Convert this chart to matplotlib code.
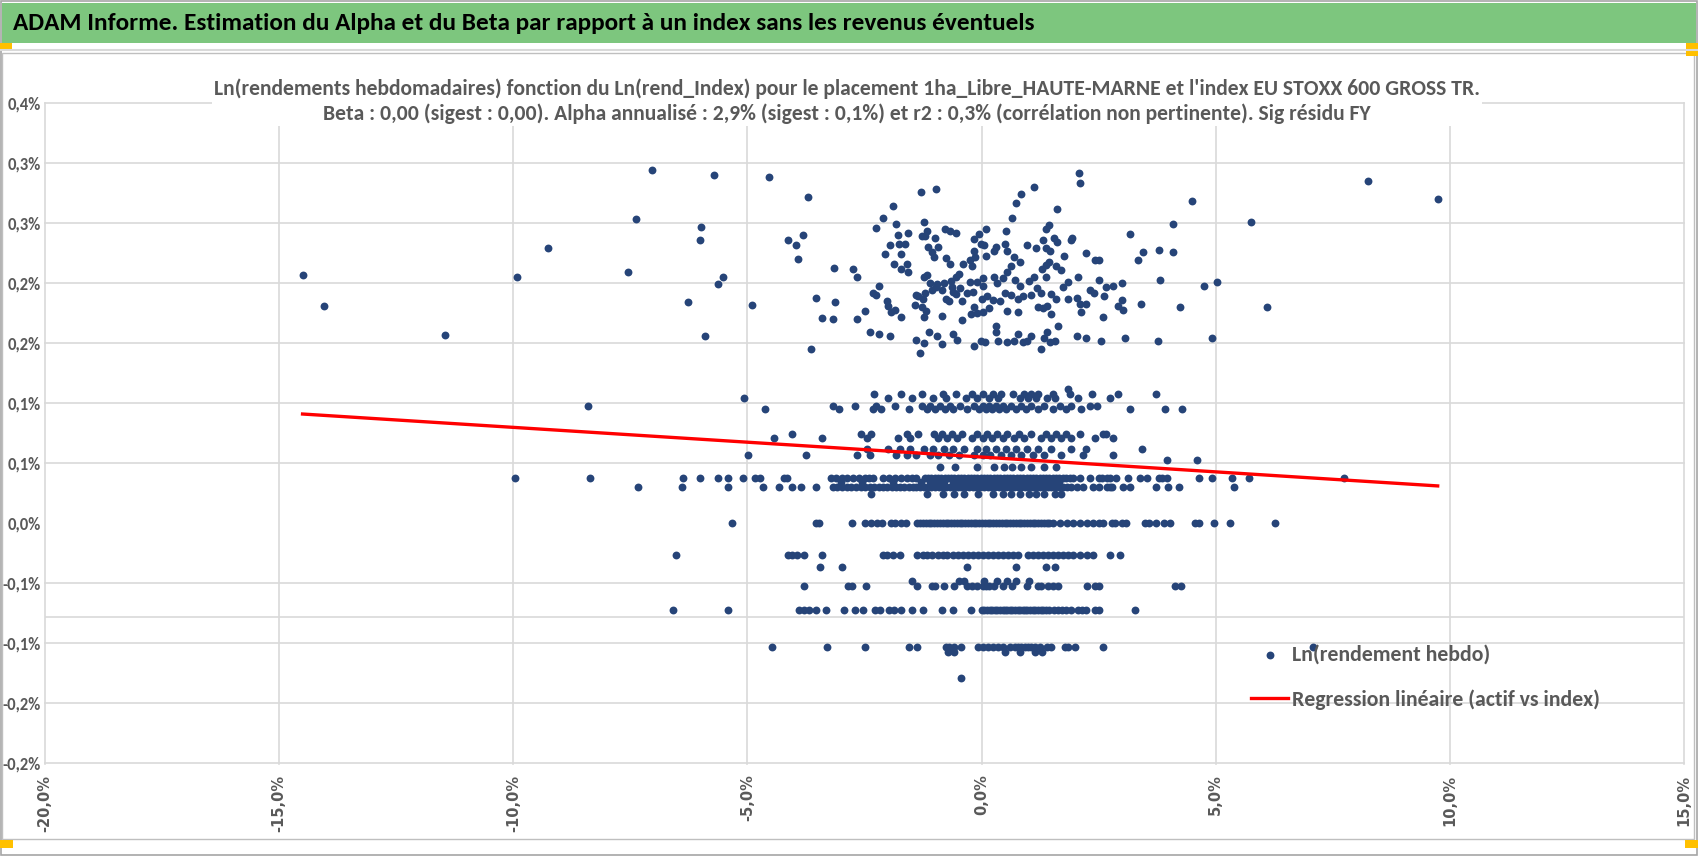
import numpy as np
import matplotlib
matplotlib.use("Agg")
import matplotlib.pyplot as plt
from matplotlib import font_manager
from matplotlib.patches import Rectangle
from matplotlib.lines import Line2D
from matplotlib.transforms import Affine2D

# weekly ln-returns in %: (index, fund)
cloud_far_left = [(-14.50, 0.207), (-14.05, 0.181), (-11.45, 0.157), (-9.93, 0.205), (-9.26, 0.229),
                  (-7.55, 0.209), (-7.38, 0.253), (-7.03, 0.294), (-6.27, 0.184), (-6.00, 0.247),
                  (-6.02, 0.236), (-5.90, 0.156), (-5.71, 0.290), (-5.53, 0.205), (-5.62, 0.199),
                  (-4.91, 0.182), (-4.53, 0.288), (-4.13, 0.236), (-3.97, 0.232), (-3.82, 0.240),
                  (-3.92, 0.220), (-3.71, 0.272), (-3.65, 0.145), (-3.54, 0.188), (-3.40, 0.171),
                  (-3.17, 0.170), (-3.16, 0.213), (-3.12, 0.184), (-2.74, 0.212), (-2.66, 0.205),
                  (-2.66, 0.170), (-2.48, 0.177)]
cloud_core_top = [(-2.26, 0.246), (-2.10, 0.254), (-1.89, 0.264), (-1.82, 0.249), (-1.78, 0.240),
                  (-1.96, 0.232), (-1.76, 0.233), (-1.64, 0.233), (-1.57, 0.242), (-2.07, 0.224),
                  (-1.72, 0.224), (-1.87, 0.216), (-1.72, 0.212), (-1.60, 0.216), (-1.57, 0.209),
                  (-2.18, 0.198), (-2.32, 0.192), (-2.25, 0.190), (-2.03, 0.185), (-2.00, 0.181),
                  (-1.93, 0.176), (-1.85, 0.178), (-1.71, 0.172), (-2.38, 0.159), (-2.19, 0.158),
                  (-1.96, 0.156), (-1.42, 0.182), (-1.39, 0.190), (-1.30, 0.276), (-0.97, 0.278),
                  (-1.24, 0.251), (-1.17, 0.243), (-1.28, 0.239), (-1.21, 0.239), (-0.99, 0.238),
                  (-1.15, 0.230), (-1.06, 0.226), (-1.01, 0.222), (-0.92, 0.230), (-0.79, 0.245),
                  (-0.67, 0.243), (-0.54, 0.242), (-0.75, 0.221), (-0.68, 0.216), (-0.39, 0.216),
                  (-0.25, 0.219), (-0.20, 0.214), (-0.13, 0.222), (-0.17, 0.227), (-0.17, 0.237),
                  (-0.06, 0.241), (-0.02, 0.233), (0.05, 0.232), (0.09, 0.245), (0.09, 0.223),
                  (0.27, 0.227), (0.30, 0.230), (0.52, 0.243), (0.50, 0.233), (0.55, 0.227),
                  (0.66, 0.254), (0.73, 0.267), (0.85, 0.274), (1.11, 0.280), (0.70, 0.222),
                  (0.83, 0.218), (0.97, 0.232), (1.16, 0.229), (1.31, 0.236), (1.37, 0.245),
                  (1.43, 0.248), (1.54, 0.238), (1.61, 0.234), (1.38, 0.229), (1.47, 0.227),
                  (1.61, 0.262), (1.77, 0.223), (1.90, 0.236), (1.94, 0.238), (2.22, 0.225),
                  (2.42, 0.219), (2.08, 0.292), (2.10, 0.283)]
cloud_core_mid = [(-1.24, 0.205), (-1.17, 0.207), (-1.10, 0.200), (-0.96, 0.199), (-0.81, 0.200),
                  (-0.65, 0.202), (-0.54, 0.205), (-0.49, 0.208), (-0.63, 0.197), (-0.47, 0.196),
                  (-0.25, 0.201), (-0.18, 0.193), (-0.09, 0.201), (0.02, 0.204), (0.03, 0.198),
                  (0.27, 0.205), (0.32, 0.200), (0.45, 0.204), (0.54, 0.209), (0.63, 0.214),
                  (0.71, 0.203), (0.83, 0.198), (1.02, 0.202), (1.13, 0.205), (1.19, 0.196),
                  (1.29, 0.212), (1.37, 0.215), (1.38, 0.205), (1.45, 0.218), (1.60, 0.214),
                  (1.70, 0.211), (1.74, 0.197), (1.85, 0.201), (2.06, 0.205), (2.31, 0.194),
                  (2.40, 0.192), (-1.35, 0.189), (-1.26, 0.187), (-1.21, 0.192), (-1.06, 0.194),
                  (-0.97, 0.197), (-0.85, 0.194), (-0.75, 0.187), (-0.70, 0.185), (-0.61, 0.193),
                  (-0.54, 0.191), (-0.42, 0.185), (-0.32, 0.192), (0.00, 0.187), (0.11, 0.189),
                  (0.25, 0.186), (0.40, 0.185), (0.50, 0.192), (0.63, 0.190), (0.77, 0.187),
                  (0.88, 0.189), (1.06, 0.190), (1.27, 0.192), (1.48, 0.191), (1.60, 0.187),
                  (1.85, 0.187), (2.04, 0.188), (2.10, 0.183), (2.22, 0.183)]
cloud_core_low = [(-1.27, 0.180), (-1.18, 0.177), (-1.24, 0.172), (-0.85, 0.173), (-0.42, 0.169),
                  (-0.17, 0.180), (-0.09, 0.175), (-0.22, 0.174), (0.02, 0.176), (0.16, 0.179),
                  (0.55, 0.177), (0.78, 0.176), (1.20, 0.180), (1.31, 0.179), (1.39, 0.181),
                  (1.49, 0.174), (2.12, 0.176), (-1.39, 0.153), (-1.22, 0.150), (-1.13, 0.159),
                  (-0.96, 0.156), (-0.85, 0.149), (-0.60, 0.158), (-0.52, 0.153), (-0.02, 0.152),
                  (0.07, 0.151), (0.30, 0.159), (0.30, 0.164), (0.36, 0.152), (0.55, 0.151),
                  (0.70, 0.152), (0.78, 0.158), (0.88, 0.151), (0.98, 0.152), (1.06, 0.156),
                  (1.34, 0.154), (1.40, 0.159), (1.46, 0.151), (1.57, 0.152), (1.63, 0.164),
                  (2.03, 0.156), (2.22, 0.154), (-1.31, 0.142), (-0.17, 0.148), (1.27, 0.145)]
cloud_right = [(4.50, 0.268), (4.08, 0.249), (3.16, 0.241), (5.75, 0.251), (8.26, 0.285),
               (9.74, 0.270), (3.34, 0.219), (3.44, 0.226), (3.79, 0.228), (4.09, 0.226),
               (2.50, 0.219), (2.50, 0.203), (2.66, 0.197), (2.81, 0.198), (3.00, 0.200),
               (3.81, 0.203), (4.76, 0.198), (5.02, 0.201), (2.62, 0.189), (3.00, 0.186),
               (2.91, 0.181), (3.02, 0.178), (3.41, 0.183), (4.23, 0.180), (6.10, 0.180),
               (2.60, 0.172), (2.54, 0.152), (3.07, 0.154), (3.76, 0.152), (4.93, 0.154)]

# weeks where the fund return sits on a repeated value: index returns per level
row_p112 = [1.84]
row_p108 = [-2.30, -1.73, -1.28, -0.83, -0.55, -0.20, 0.03, 0.24, 0.41, 0.67, 0.91, 1.06, 1.20,
            1.53, 1.88, 2.35, 2.91, 3.72]
row_p104 = [-5.07, -1.99, -1.49, -1.03, -0.76, -0.34, -0.09, 0.16, 0.35, 0.81, 0.99, 1.17, 1.39,
            1.56, 2.06, 2.74]
row_p098 = [-8.40, -3.17, -2.71, -2.25, -1.85, -1.28, -1.10, -0.88, -0.67, -0.45, -0.17, 0.02,
            0.16, 0.30, 0.45, 0.63, 0.84, 1.06, 1.34, 1.67, 1.92, 2.31, 2.46]
row_p095 = [-4.63, -3.05, -2.31, -2.14, -1.54, -1.17, -0.99, -0.79, -0.60, -0.31, -0.06, 0.09,
            0.23, 0.37, 0.52, 0.73, 0.95, 1.20, 1.52, 1.81, 2.13, 3.18, 3.92, 4.28]
row_p074 = [-4.04, -2.57, -2.36, -1.60, -1.35, -1.02, -0.85, -0.63, -0.42, -0.09, 0.12, 0.34,
            0.55, 0.80, 1.06, 1.38, 1.60, 1.81, 2.10, 2.60, 2.66]
row_p071 = [-4.44, -3.40, -2.45, -1.78, -1.53, -0.92, -0.74, -0.52, -0.20, 0.02, 0.23, 0.45,
            0.70, 0.91, 1.27, 1.49, 1.70, 1.92, 2.42, 2.81]
row_p062 = [-2.45, -2.00, -1.75, -1.53, -1.24, -1.03, -0.81, -0.60, -0.38, -0.09, 0.09, 0.30,
            0.52, 0.73, 0.98, 1.20, 1.49, 1.92, 2.24, 3.43]
row_p057 = [-4.98, -3.74, -2.67, -2.39, -1.82, -1.60, -1.39, -1.10, -0.92, -0.70, -0.49, -0.17,
            0.02, 0.19, 0.41, 0.63, 0.84, 1.09, 1.34, 1.70, 2.17, 2.81]
row_p053 = [3.95, 4.61]
row_p047 = [-0.88, -0.56, -0.09, 0.27, 0.48, 0.66, 0.84, 1.06, 1.34, 1.60]
row_p038 = [-9.96, -8.36, -6.38, -6.02, -5.62, -5.41, -5.10, -4.83, -4.73, -4.22, -4.15,
            -3.22, -3.10, -2.98, -2.88, -2.75, -2.62, -2.50, -2.40, -2.32,
            -2.10, -1.98, -1.85, -1.72, -1.60, -1.49, -1.39,
            -1.21, -1.15, -1.07, -1.00, -0.93, -0.86, -0.79, -0.72, -0.65, -0.58, -0.51, -0.44,
            -0.37, -0.30, -0.23, -0.16, -0.09, -0.02, 0.05, 0.12, 0.19, 0.26, 0.33, 0.40, 0.47,
            0.54, 0.61, 0.68, 0.75, 0.82, 0.89, 0.96, 1.03, 1.10, 1.17, 1.24, 1.31, 1.38, 1.45,
            1.52, 1.59, 1.66, 1.73, 1.80, 1.88,
            1.96, 2.10, 2.32, 2.50, 2.58, 2.67, 2.75, 2.87, 3.12, 3.38, 3.53, 3.78, 3.86, 3.96,
            4.64, 4.93, 5.34, 5.71, 7.73]
row_p034 = [-3.00, -2.55, -1.90, -1.30, -1.10, -0.95, -0.80, -0.62, -0.48, -0.33, -0.20, -0.05,
            0.08, 0.22, 0.36, 0.50, 0.64, 0.78, 0.92, 1.08, 1.22, 1.36, 1.50, 1.65]
row_p030 = [-7.33, -6.40, -5.41, -4.66, -4.33, -4.04, -3.86, -3.54,
            -3.18, -3.08, -2.97, -2.88, -2.79, -2.68, -2.58, -2.49, -2.39, -2.30, -2.20, -2.11,
            -2.02, -1.92, -1.83, -1.74, -1.65, -1.56, -1.47, -1.39, -1.31, -1.23, -1.15, -1.07,
            -0.99, -0.91, -0.83, -0.75, -0.67, -0.59, -0.51, -0.43, -0.35, -0.27, -0.19, -0.11,
            -0.03, 0.05, 0.13, 0.21, 0.29, 0.37, 0.45, 0.53, 0.61, 0.69, 0.77, 0.85, 0.93, 1.01,
            1.09, 1.17, 1.25, 1.33, 1.41, 1.49, 1.57, 1.65, 1.73, 1.82, 1.90,
            2.03, 2.17, 2.39, 2.50, 2.67, 2.75, 2.79, 3.03, 3.18, 3.72, 3.98, 4.21, 5.39]
row_p024 = [-2.36, -1.16, -0.83, -0.58, -0.37, -0.08, 0.24, 0.46, 0.63, 0.81, 1.01, 1.17, 1.33,
            1.57, 1.69]
row_zero = [-5.32, -3.54, -3.47, -2.77, -2.48, -2.37, -2.23, -2.12, -1.94, -1.84, -1.73, -1.62,
            -1.37, -1.31, -1.25, -1.19, -1.13, -1.07, -1.01, -0.95, -0.89, -0.83, -0.77, -0.71,
            -0.65, -0.59, -0.53, -0.47, -0.41, -0.35, -0.29, -0.23, -0.17, -0.11, -0.05, 0.01,
            0.07, 0.13, 0.19, 0.25, 0.31, 0.37, 0.43, 0.49, 0.55, 0.61, 0.67, 0.73, 0.79, 0.85,
            0.91, 0.97, 1.03, 1.09, 1.15, 1.21, 1.27, 1.33, 1.39, 1.45, 1.53,
            1.67, 1.82, 1.96, 2.10, 2.25, 2.39, 2.51, 2.59, 2.78, 2.84, 3.00, 3.08, 3.50, 3.57,
            3.72, 3.90, 4.02, 4.55, 4.65, 4.96, 5.31, 6.27]
row_m026 = [-6.52, -4.13, -4.04, -3.94, -3.79, -3.41, -2.11, -2.01, -1.90, -1.74,
            -1.37, -1.26, -1.16, -1.05, -0.94, -0.83, -0.73, -0.62, -0.51, -0.40, -0.30, -0.19,
            -0.08, 0.03, 0.13, 0.24, 0.35, 0.46, 0.56, 0.67, 0.78, 0.99, 1.10, 1.21, 1.31, 1.42,
            1.53, 1.64, 1.74, 1.85, 1.96, 2.10, 2.25, 2.39, 2.75, 2.96]
row_m036 = [-3.45, -2.99, -0.32, 0.74, 1.38, 1.57]
row_m048 = [-1.49, -0.49, -0.38, 0.05, 0.34, 0.55, 0.73, 1.02]
row_m052 = [-3.79, -2.86, -2.77, -2.46, -1.37, -1.06, -0.99, -0.81, -0.58, -0.31, -0.20, -0.09,
            0.03, 0.10, 0.16, 0.27, 0.45, 0.66, 0.98, 1.21, 1.27, 1.42, 1.52, 1.63, 2.25, 2.42,
            2.51, 4.12, 4.25]
row_m072 = [-6.58, -5.41, -3.90, -3.79, -3.68, -3.53, -3.33, -2.93, -2.71, -2.54, -2.28, -2.16,
            -1.98, -1.87, -1.73, -1.48, -1.26, -0.85, -0.62, -0.23,
            0.00, 0.06, 0.12, 0.18, 0.23, 0.29, 0.34, 0.40, 0.45, 0.50, 0.55, 0.61, 0.66, 0.72,
            0.77, 0.83, 0.88, 0.93, 0.98, 1.04, 1.09, 1.15, 1.20, 1.26, 1.31, 1.38, 1.45, 1.54,
            1.63, 1.72, 1.81, 1.92, 2.06, 2.15, 2.24, 2.42, 2.51, 3.28]
row_m103 = [-4.47, -3.30, -2.49, -1.55, -1.37, -0.76, -0.69, -0.58, -0.44, -0.08, 0.03, 0.13,
            0.24, 0.35, 0.46, 0.60, 0.71, 0.78, 0.85, 0.92, 0.99, 1.06, 1.14, 1.24, 1.39, 1.49,
            1.78, 1.85, 1.99, 2.60, 7.08]
row_m107 = [-0.72, -0.58, 0.50, 0.82, 1.14, 1.30]
row_m129 = [-0.44]

rows = [(0.112, row_p112), (0.108, row_p108), (0.104, row_p104), (0.098, row_p098),
        (0.095, row_p095), (0.074, row_p074), (0.071, row_p071), (0.062, row_p062),
        (0.057, row_p057), (0.053, row_p053), (0.047, row_p047), (0.038, row_p038),
        (0.034, row_p034), (0.030, row_p030), (0.024, row_p024), (0.0, row_zero),
        (-0.026, row_m026), (-0.036, row_m036), (-0.048, row_m048), (-0.052, row_m052),
        (-0.072, row_m072), (-0.103, row_m103), (-0.107, row_m107), (-0.129, row_m129)]

# regression shown on the chart (fund % = alpha + beta * index %)
reg_alpha = 0.0552
reg_beta = -0.00247

x_ticks = [-20, -15, -10, -5, 0, 5, 10, 15]
y_ticks = [-0.20, -0.15, -0.10, -0.05, 0.0, 0.05, 0.10, 0.15, 0.20, 0.25, 0.30, 0.35]
h_axis_at = -0.078

title_main = "ADAM Informe. Estimation du Alpha et du Beta par rapport à un index sans les revenus éventuels"
title_chart = ("Ln(rendements hebdomadaires) fonction du Ln(rend_Index) pour le placement "
               "1ha_Libre_HAUTE-MARNE et l'index EU STOXX 600 GROSS TR.\n"
               "Beta : 0,00 (sigest : 0,00). Alpha annualisé : 2,9% (sigest : 0,1%) et r2 : 0,3% "
               "(corrélation non pertinente). Sig résidu FY")
label_pts = "Ln(rendement hebdo)"
label_reg = "Regression linéaire (actif vs index)"

# ---------------------------------------------------------------
pts = cloud_far_left + cloud_core_top + cloud_core_mid + cloud_core_low + cloud_right
xs = [p[0] for p in pts]
ys = [p[1] for p in pts]
for lvl, row in rows:
    xs += row
    ys += [lvl] * len(row)
xs = np.array(xs)
ys = np.array(ys)

avail = {f.name for f in font_manager.fontManager.ttflist}
NARROW = next((f for f in ["Carlito", "Liberation Sans Narrow", "Liberation Sans"] if f in avail),
              "DejaVu Sans")
GRAY = "#595959"
GRID = "#d9d9d9"
DOT = "#264478"

W, H = 1698, 856
fig = plt.figure(figsize=(W / 100, H / 100), dpi=100)
px = Affine2D().scale(1 / W, -1 / H).translate(0, 1) + fig.transFigure
rend = fig.canvas.get_renderer()


def box(x0, y0, x1, y1, **kw):
    fig.add_artist(Rectangle((x0, y0), x1 - x0, y1 - y0, transform=px, **kw))


def fit(t, width):
    w = t.get_window_extent(rend).width
    t.set_fontsize(t.get_fontsize() * width / w)


box(0.5, 0.5, W - 0.5, H - 0.5, fill=False, ec="#a6a6a6", lw=1.2)
box(2, 3, W - 2, 43, fc="#7dc67e", ec="none")
fig.add_artist(Line2D([0, W], [50, 50], transform=px, color="#d9d9d9", lw=1.5))
box(2, 53, W - 4, 839, fill=False, ec="#bfbfbf", lw=1)
for x0, y0, x1, y1 in [(0, 43, 12, 50), (W - 12, 43, W, 56), (0, 840, 13, 848), (W - 13, 840, W, 848)]:
    box(x0, y0, x1, y1, fc="#ffc000", ec="none")

t = fig.text(13, 23, title_main, transform=px, family=NARROW, weight="bold", fontsize=16,
             ha="left", va="center", color="black")
fit(t, 1021)

ax = fig.add_axes([45 / W, 1 - 763.5 / H, (1684 - 45) / W, (763.5 - 103) / H])
ax.set_facecolor("none")
ax.set_xlim(-20, 15)
ax.set_ylim(-0.20, 0.35)
for s in ax.spines.values():
    s.set_visible(False)

for v in y_ticks:
    if v != 0:
        ax.axhline(v, color=GRID, lw=1.2, zorder=0, clip_on=False)
ax.axhline(h_axis_at, color=GRID, lw=1.2, zorder=0)
for v in x_ticks:
    ax.axvline(v, color=GRID, lw=1.2, zorder=0, clip_on=False)


def pct(v):
    r = np.sign(v) * np.floor(abs(v) * 10 + 0.5 + 1e-9) / 10
    return f"{r + 0.0:.1f}%".replace(".", ",")


ax.set_xticks(x_ticks)
ax.set_xticklabels([pct(v) for v in x_ticks], rotation=90, family="DejaVu Sans",
                   weight="bold", fontsize=10.5, color=GRAY)
ax.set_yticks(y_ticks)
ax.set_yticklabels([pct(v) for v in y_ticks], family=NARROW, weight="bold",
                   fontsize=12, color=GRAY)
ax.tick_params(axis="x", length=0, pad=8)
ax.tick_params(axis="y", length=0, pad=3)

ax.scatter(xs, ys, s=32, c=DOT, linewidths=0, zorder=2, label=label_pts)
xl = np.array([xs.min(), xs.max()])
ax.plot(xl, reg_alpha + reg_beta * xl, color="#ff0000", lw=2.4, zorder=3, label=label_reg)

ct = fig.text(847, 101, title_chart, transform=px, family=NARROW, weight="bold", fontsize=15,
              ha="center", va="center", multialignment="center", color=GRAY, linespacing=1.3,
              bbox=dict(fc="white", ec="none", pad=1), zorder=5)
fit(ct, 1273)

probe = fig.text(0, 0, label_pts, family=NARROW, weight="bold", fontsize=20)
fs = 20 * 198 / probe.get_window_extent(rend).width
probe.remove()
fs_px = fs * 100 / 72
leg = ax.legend(loc="upper left", bbox_to_anchor=(1251 / W, 1 - (658 - 0.6 * fs_px) / H),
                bbox_transform=fig.transFigure, frameon=False,
                prop={"family": NARROW, "size": fs, "weight": "bold"},
                handlelength=37 / fs_px, handletextpad=4 / fs_px,
                labelspacing=(50 - 1.17 * fs_px) / fs_px, borderpad=0, borderaxespad=0,
                scatterpoints=1)
for tx in leg.get_texts():
    tx.set_color(GRAY)

fig.savefig("out.png", dpi=100)
